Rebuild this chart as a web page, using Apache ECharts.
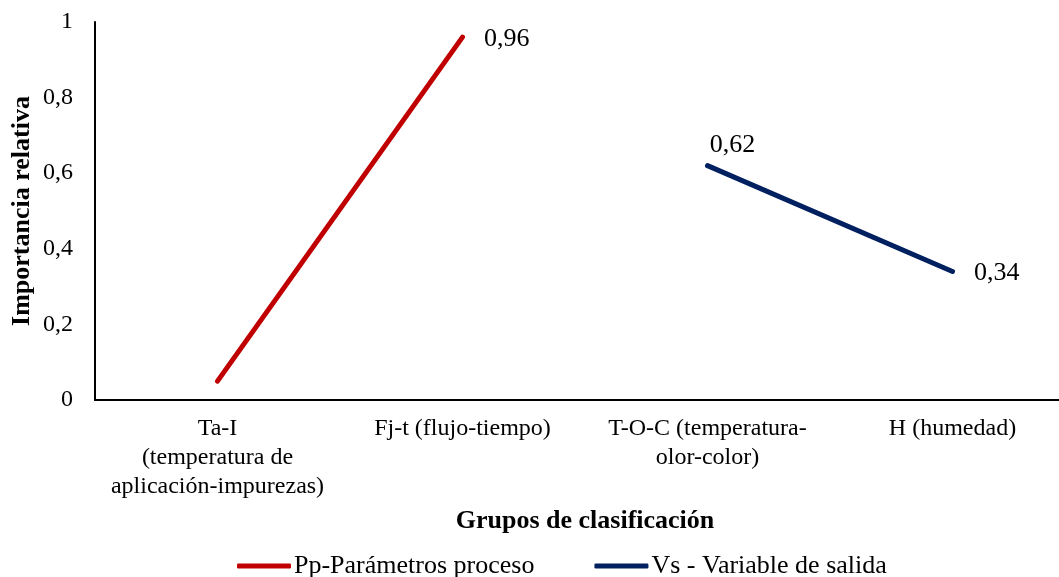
<!DOCTYPE html>
<html>
<head>
<meta charset="utf-8">
<script src="https://cdn.jsdelivr.net/npm/echarts@6/dist/echarts.min.js"></script>
<style>
  html, body { margin: 0; padding: 0; background: #fff; }
  #chart { width: 1059px; height: 577px; }
</style>
</head>
<body>
<div id="chart"></div>
<script>
// categories and values
var categories = [
    'Ta-I\n(temperatura de\naplicación-impurezas)',
    'Fj-t (flujo-tiempo)',
    'T-O-C (temperatura-\nolor-color)',
    'H (humedad)'
];
var ppValues = [0.05, 0.96, null, null];
var vsValues = [null, null, 0.62, 0.34];
var yTicks = [0, 0.2, 0.4, 0.6, 0.8, 1];

var serif = '"Liberation Serif", "Times New Roman", serif';
function comma(v) { return String(v).replace('.', ','); }

var myChart = echarts.init(document.getElementById('chart'));

var option = {
    backgroundColor: '#fff',
    animation: false,
    grid: { left: 95, right: -16, top: 22, bottom: 177, outerBoundsMode: 'none', containLabel: false },
    legend: {
        bottom: -7,
        left: 232,
        itemWidth: 54,
        itemHeight: 5,
        itemGap: 60,
        icon: 'roundRect',
        textStyle: { fontFamily: serif, fontSize: 26, color: '#000', padding: [0, 0, 0, -2] },
        data: ['Pp-Parámetros proceso', 'Vs - Variable de salida']
    },
    xAxis: {
        type: 'category',
        data: categories,
        boundaryGap: true,
        name: 'Grupos de clasificación',
        nameLocation: 'middle',
        nameGap: 108,
        nameMoveOverlap: false,
        nameTextStyle: { fontFamily: serif, fontSize: 26, fontWeight: 'bold', color: '#000' },
        axisLine: { lineStyle: { color: '#000', width: 2 } },
        axisTick: { show: false },
        axisLabel: {
            interval: 0,
            margin: 14,
            fontFamily: serif, fontSize: 24, lineHeight: 29, color: '#000'
        }
    },
    yAxis: {
        type: 'value',
        min: 0,
        max: 1,
        interval: 0.2,
        name: 'Importancia relativa',
        nameLocation: 'middle',
        nameGap: 60,
        nameMoveOverlap: false,
        nameTextStyle: { fontFamily: serif, fontSize: 26, fontWeight: 'bold', color: '#000' },
        axisLine: { show: true, lineStyle: { color: '#000', width: 2 } },
        axisTick: { show: false },
        splitLine: { show: false },
        axisLabel: {
            margin: 22,
            fontFamily: serif, fontSize: 24, color: '#000',
            formatter: function (v) {
                for (var i = 0; i < yTicks.length; i++) {
                    if (Math.abs(yTicks[i] - v) < 1e-9) return comma(yTicks[i]);
                }
                return '';
            }
        }
    },
    series: [
        {
            name: 'Pp-Parámetros proceso',
            type: 'line',
            symbol: 'none',
            itemStyle: { color: '#C00000' },
            lineStyle: { color: '#C00000', width: 5, cap: 'round' },
            data: [
                ppValues[0],
                { value: ppValues[1], symbol: 'circle', symbolSize: 1,
                  label: { show: true, position: 'right', distance: 21, offset: [0, 2] } },
                ppValues[2],
                ppValues[3]
            ],
            label: { fontFamily: serif, fontSize: 26, color: '#000', formatter: function (p) { return comma(p.value); } }
        },
        {
            name: 'Vs - Variable de salida',
            type: 'line',
            symbol: 'none',
            itemStyle: { color: '#002060' },
            lineStyle: { color: '#002060', width: 5, cap: 'round' },
            data: [
                vsValues[0],
                vsValues[1],
                { value: vsValues[2], symbol: 'circle', symbolSize: 1,
                  label: { show: true, position: 'top', distance: 10, offset: [25, 3] } },
                { value: vsValues[3], symbol: 'circle', symbolSize: 1,
                  label: { show: true, position: 'right', distance: 21, offset: [0, 2] } }
            ],
            label: { fontFamily: serif, fontSize: 26, color: '#000', formatter: function (p) { return comma(p.value); } }
        }
    ]
};

myChart.setOption(option);
</script>
</body>
</html>
